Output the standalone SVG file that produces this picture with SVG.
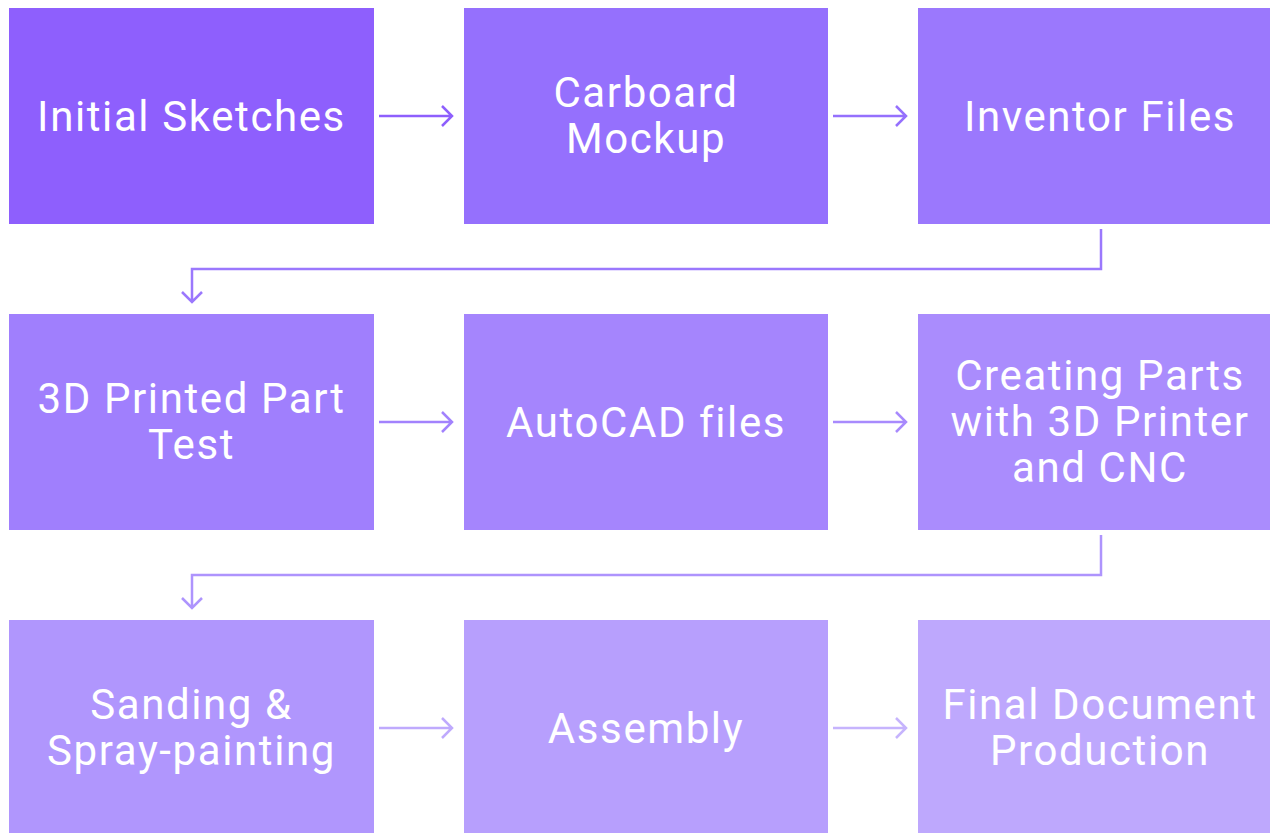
<svg xmlns="http://www.w3.org/2000/svg" width="1270" height="833" viewBox="0 0 1270 833">
<style>
.box{stroke:none}
.t{font-family:Roboto,"Liberation Sans",sans-serif;font-size:42px;fill:#ffffff;text-anchor:middle;letter-spacing:1.6px}
.c{fill:none;stroke-width:2.5;stroke-linecap:butt;stroke-linejoin:miter}
</style>
<rect width="1270" height="833" fill="#ffffff"/>
<g id="n1"><rect class="box" x="9" y="8" width="365" height="216" fill="#8e5ffd"/><text class="t" x="191.5" y="131">Initial Sketches</text></g>
<g id="n2"><rect class="box" x="464" y="8" width="364" height="216" fill="#9570fd"/><text class="t" x="646" y="107">Carboard</text><text class="t" x="646" y="153">Mockup</text></g>
<g id="n3"><rect class="box" x="918" y="8" width="365" height="216" fill="#9b78fd"/><text class="t" x="1100" y="131">Inventor Files</text></g>
<g id="n4"><rect class="box" x="9" y="314" width="365" height="216" fill="#a07ffd"/><text class="t" x="191.5" y="413">3D Printed Part</text><text class="t" x="191.5" y="459">Test</text></g>
<g id="n5"><rect class="box" x="464" y="314" width="364" height="216" fill="#a585fd"/><text class="t" x="646" y="437">AutoCAD files</text></g>
<g id="n6"><rect class="box" x="918" y="314" width="365" height="216" fill="#aa8cfd"/><text class="t" x="1100" y="390">Creating Parts</text><text class="t" x="1100" y="436">with 3D Printer</text><text class="t" x="1100" y="482">and CNC</text></g>
<g id="n7"><rect class="box" x="9" y="620" width="365" height="216" fill="#b096fd"/><text class="t" x="191.5" y="719">Sanding &amp;</text><text class="t" x="191.5" y="765">Spray-painting</text></g>
<g id="n8"><rect class="box" x="464" y="620" width="364" height="216" fill="#b79ffd"/><text class="t" x="646" y="743">Assembly</text></g>
<g id="n9"><rect class="box" x="918" y="620" width="365" height="216" fill="#bea8fd"/><text class="t" x="1100" y="719">Final Document</text><text class="t" x="1100" y="765">Production</text></g>
<g id="connectors">
<path class="c" stroke="#8e5ffd" d="M379 116H452M442 106L452 116L442 126"/>
<path class="c" stroke="#9570fd" d="M833 116H906M896 106L906 116L896 126"/>
<path class="c" stroke="#9b78fd" d="M1101 229V269H192V302M182 292L192 302L202 292"/>
<path class="c" stroke="#a282fd" d="M379 422H452M442 412L452 422L442 432"/>
<path class="c" stroke="#a88afd" d="M833 422H906M896 412L906 422L896 432"/>
<path class="c" stroke="#ae94fd" d="M1101 535V575H192V608M182 598L192 608L202 598"/>
<path class="c" stroke="#bfaafd" d="M379 728H452M442 718L452 728L442 738"/>
<path class="c" stroke="#c6b4fd" d="M833 728H906M896 718L906 728L896 738"/>
</g>
</svg>
